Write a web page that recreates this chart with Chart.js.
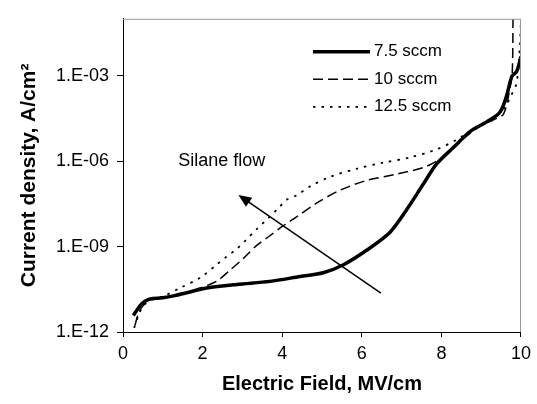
<!DOCTYPE html>
<html>
<head>
<meta charset="utf-8">
<script src="https://cdn.jsdelivr.net/npm/chart.js@4.4.1/dist/chart.umd.min.js"></script>
<style>
  html, body { margin: 0; padding: 0; background: #fff; }
  #wrap { width: 537px; height: 404px; }
</style>
</head>
<body>
<div id="wrap"><canvas id="chart"></canvas></div>
<script>
// legend names
const seriesNames = ['7.5 sccm', '10 sccm', '12.5 sccm'];

// 7.5 sccm (solid)
const field75 = [0.26, 0.43, 0.55, 0.68, 1.0, 1.3, 1.6, 2.1, 2.86, 3.69, 4.45, 5.03, 5.54, 6.12, 6.71, 7.13, 7.55, 7.88, 8.3, 8.72, 9.14, 9.47, 9.64, 9.77, 9.89, 10.0];
const current75 = [3.8e-12, 8.5e-12, 1.2e-11, 1.45e-11, 1.6e-11, 1.9e-11, 2.4e-11, 3.5e-11, 4.7e-11, 6.0e-11, 8.9e-11, 1.2e-10, 2.3e-10, 7.4e-10, 3.2e-9, 2.0e-8, 1.6e-7, 8.0e-7, 3.0e-6, 1.1e-5, 2.4e-5, 5.2e-5, 2.0e-4, 9.5e-4, 1.4e-3, 4.7e-3];

// 10 sccm (dashed)
const field10 = [0.3, 0.4, 0.55, 0.7, 1.0, 1.6, 1.93, 2.35, 2.69, 3.02, 3.36, 3.69, 4.03, 4.36, 4.87, 5.45, 6.12, 6.88, 7.55, 7.88, 8.22, 8.6, 9.0, 9.3, 9.56, 9.72, 9.78, 9.8];
const current10 = [1.7e-12, 5.0e-12, 1.0e-11, 1.4e-11, 1.6e-11, 2.4e-11, 3.5e-11, 6.0e-11, 1.5e-10, 3.8e-10, 1.1e-9, 2.4e-9, 5.4e-9, 1.1e-8, 3.4e-8, 9.5e-8, 2.1e-7, 3.5e-7, 6.0e-7, 1.0e-6, 2.2e-6, 7.0e-6, 1.8e-5, 2.8e-5, 4.5e-5, 3.5e-4, 1.3e-3, 1e-1];

// 12.5 sccm (dotted)
const field125 = [0.28, 0.38, 0.5, 0.7, 1.0, 1.43, 1.93, 2.35, 2.6, 2.86, 3.07, 3.36, 3.65, 3.9, 4.11, 4.36, 4.7, 5.2, 5.87, 6.54, 7.21, 7.88, 8.38, 8.63, 9.0, 9.4, 9.6, 9.75, 9.89, 9.97, 10.0];
const current125 = [1.4e-12, 3.5e-12, 8.0e-12, 1.3e-11, 1.75e-11, 3.5e-11, 7.9e-11, 2.3e-10, 4.4e-10, 8.3e-10, 1.6e-9, 4.1e-9, 1.0e-8, 2.2e-8, 4.4e-8, 6.3e-8, 1.3e-7, 2.8e-7, 5.4e-7, 8.9e-7, 1.35e-6, 2.6e-6, 5.6e-6, 9.5e-6, 2.0e-5, 4.0e-5, 8.0e-5, 2.0e-4, 5.6e-4, 1.0e-2, 1e-1];

const yTickValues = [1e-12, 1e-9, 1e-6, 1e-3];
const yTickLabels = ['1.E-12', '1.E-09', '1.E-06', '1.E-03'];

// annotation: arrow and its label, in data units
const arrowTail = { x: 6.48, y: 2.3e-11 };
const arrowHead = { x: 2.9, y: 6.5e-8 };
const noteText = 'Silane flow';
const notePos = { x: 2.48, y: 1e-6 };

const FONT = '"Liberation Sans", Arial, sans-serif';
Chart.defaults.font.family = FONT;
Chart.defaults.color = '#000';

function pairs(xs, ys) {
  return xs.map((x, i) => ({ x: x, y: ys[i] }));
}

// gray top/right frame, arrow, note and the legend inside the plot
const extras = {
  id: 'extras',
  afterDatasetsDraw(chart) {
    const { ctx, chartArea, scales } = chart;
    const xs = scales.x, ys = scales.y;
    ctx.save();

    ctx.strokeStyle = '#999';
    ctx.lineWidth = 1;
    ctx.beginPath();
    ctx.moveTo(chartArea.left, chartArea.top + 0.5);
    ctx.lineTo(chartArea.right - 0.5, chartArea.top + 0.5);
    ctx.lineTo(chartArea.right - 0.5, chartArea.bottom);
    ctx.stroke();

    // arrow
    const x1 = xs.getPixelForValue(arrowTail.x), y1 = ys.getPixelForValue(arrowTail.y);
    const x2 = xs.getPixelForValue(arrowHead.x), y2 = ys.getPixelForValue(arrowHead.y);
    const ang = Math.atan2(y2 - y1, x2 - x1);
    const headLen = 13, headW = 5.5;
    ctx.strokeStyle = '#000';
    ctx.lineWidth = 1.5;
    ctx.beginPath();
    ctx.moveTo(x1, y1);
    ctx.lineTo(x2 - Math.cos(ang) * headLen * 0.8, y2 - Math.sin(ang) * headLen * 0.8);
    ctx.stroke();
    ctx.fillStyle = '#000';
    ctx.beginPath();
    ctx.moveTo(x2, y2);
    ctx.lineTo(x2 - Math.cos(ang) * headLen + Math.sin(ang) * headW, y2 - Math.sin(ang) * headLen - Math.cos(ang) * headW);
    ctx.lineTo(x2 - Math.cos(ang) * headLen - Math.sin(ang) * headW, y2 - Math.sin(ang) * headLen + Math.cos(ang) * headW);
    ctx.closePath();
    ctx.fill();

    ctx.font = '18px ' + FONT;
    ctx.textAlign = 'center';
    ctx.textBaseline = 'middle';
    ctx.fillText(noteText, xs.getPixelForValue(notePos.x), ys.getPixelForValue(notePos.y));

    // legend
    const lx0 = chartArea.left + 190, lx1 = lx0 + 57;
    ctx.textAlign = 'left';
    ctx.font = '17px ' + FONT;
    chart.data.datasets.forEach((ds, i) => {
      const y = chartArea.top + 33 + i * 27.5;
      ctx.strokeStyle = ds.borderColor;
      ctx.lineWidth = ds.borderWidth;
      ctx.setLineDash(ds.borderDash || []);
      ctx.beginPath();
      ctx.moveTo(lx0, y);
      ctx.lineTo(lx1, y);
      ctx.stroke();
      ctx.setLineDash([]);
      ctx.fillText(ds.label, lx1 + 4, y);
    });
    ctx.restore();
  }
};

new Chart(document.getElementById('chart'), {
  type: 'scatter',
  data: {
    datasets: [
      {
        label: seriesNames[0],
        data: pairs(field75, current75),
        borderColor: '#000',
        borderWidth: 3.5,
        borderDash: [],
        showLine: true,
        pointRadius: 0,
        tension: 0.3
      },
      {
        label: seriesNames[1],
        data: pairs(field10, current10),
        borderColor: '#000',
        borderWidth: 1.5,
        borderDash: [10, 5],
        showLine: true,
        pointRadius: 0,
        tension: 0.3
      },
      {
        label: seriesNames[2],
        data: pairs(field125, current125),
        borderColor: '#000',
        borderWidth: 1.8,
        borderDash: [2.5, 6],
        showLine: true,
        pointRadius: 0,
        tension: 0.3
      }
    ]
  },
  options: {
    responsive: true,
    maintainAspectRatio: false,
    animation: false,
    layout: { padding: { top: 12, right: 16, left: 0, bottom: 0 } },
    plugins: {
      legend: { display: false },
      tooltip: { enabled: false }
    },
    scales: {
      x: {
        type: 'linear',
        min: 0,
        max: 10,
        ticks: { stepSize: 2, font: { size: 18 }, padding: 6, color: '#000' },
        grid: { drawOnChartArea: false, drawTicks: true, tickLength: 5, color: '#000' },
        border: { color: '#000', width: 1 },
        title: {
          display: true,
          text: 'Electric Field, MV/cm',
          font: { size: 20, weight: 'bold' },
          padding: { top: 0, bottom: 8 }
        },
        afterFit(s) { s.height = 72; }
      },
      y: {
        type: 'logarithmic',
        min: 1e-12,
        max: 1e-1,
        afterBuildTicks(s) { s.ticks = yTickValues.map(v => ({ value: v })); },
        ticks: {
          font: { size: 18 },
          padding: 8,
          color: '#000',
          callback: (v, i) => yTickLabels[i]
        },
        grid: { drawOnChartArea: false, drawTicks: true, tickLength: 6, color: '#000' },
        border: { color: '#000', width: 1 },
        title: {
          display: true,
          text: 'Current density, A/cm²',
          font: { size: 21, weight: 'bold' },
          padding: { top: 17, bottom: 0 }
        },
        afterFit(s) { s.width = 123; }
      }
    }
  },
  plugins: [extras]
});
</script>
</body>
</html>
